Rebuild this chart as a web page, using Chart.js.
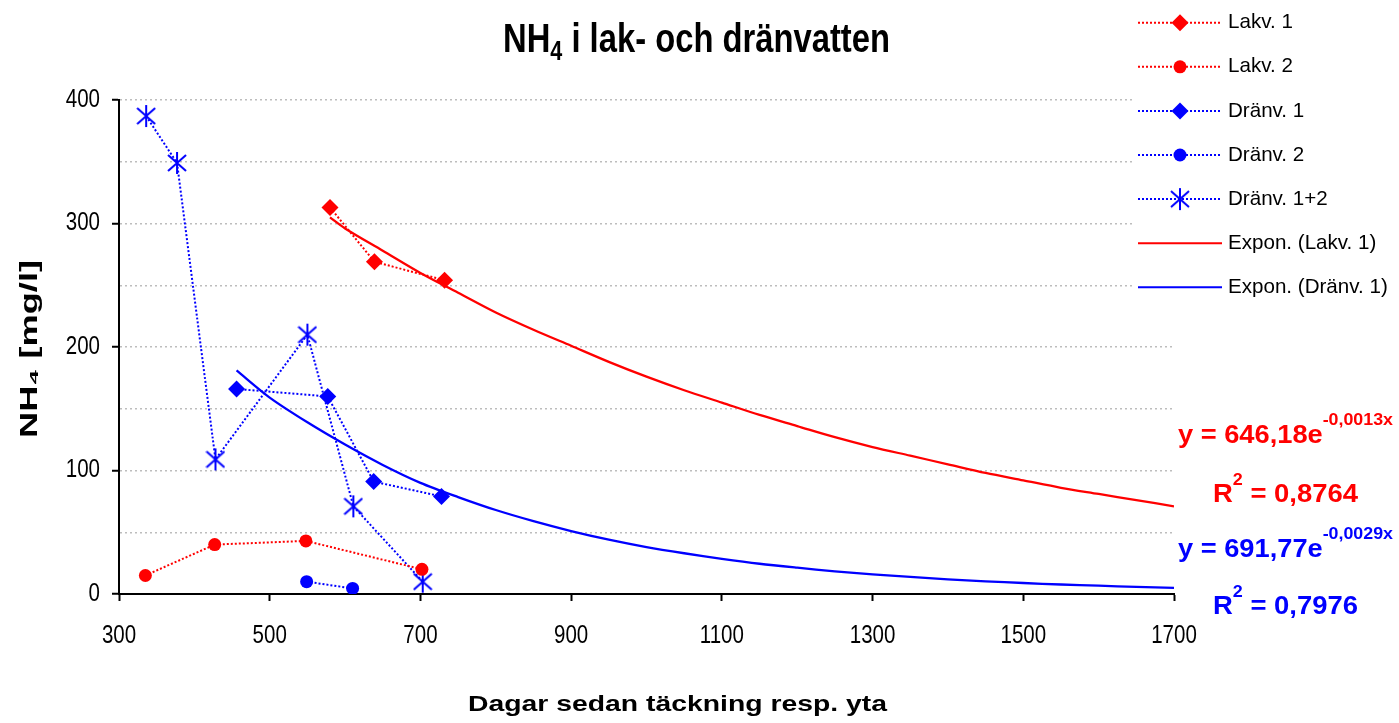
<!DOCTYPE html>
<html>
<head>
<meta charset="utf-8">
<script src="https://cdn.jsdelivr.net/npm/chart.js@4.4.1/dist/chart.umd.min.js"></script>
<style>
  body { margin: 0; background: #fff; }
  #wrap { width: 1399px; height: 723px; }
</style>
</head>
<body>
<div id="wrap"><canvas id="chart" width="1399" height="723"></canvas></div>
<script>
// values
const lakv1X = [580, 639, 732]
const lakv1Y = [313, 269, 254]
const lakv2X = [335, 427, 548, 702]
const lakv2Y = [15, 40, 43, 20]
const dranv1X = [456, 577, 638, 728]
const dranv1Y = [166, 160, 91, 79]
const dranv2X = [549, 610]
const dranv2Y = [10, 4.5]
const dranv12X = [336, 377, 428, 550, 611, 703]
const dranv12Y = [387, 349, 109, 210, 71, 10]

// exponential trend lines, sampled along the drawn curves
const trendLakvX = [580, 600, 650, 700, 750, 800, 850, 900, 950, 1000, 1050, 1100, 1150, 1200, 1250, 1300, 1350, 1400, 1450, 1500, 1550, 1600, 1650, 1700]
const trendLakvY = [305, 296, 278, 260, 244, 228, 214, 201, 188, 176, 165, 155, 145, 136, 127, 119, 112, 105, 98, 92, 86, 81, 76, 71]
const trendDranX = [456, 500, 550, 600, 650, 700, 750, 800, 850, 900, 950, 1000, 1050, 1100, 1150, 1200, 1250, 1300, 1350, 1400, 1450, 1500, 1550, 1600, 1650, 1700]
const trendDranY = [181, 159, 139, 121, 104.5, 90, 78.5, 68, 59, 51, 44, 38, 33, 28.5, 24.5, 21.3, 18.4, 15.9, 13.8, 11.9, 10.3, 8.9, 7.7, 6.7, 5.8, 5]

const xTicks = [300, 500, 700, 900, 1100, 1300, 1500, 1700]
const yTicks = [0, 100, 200, 300, 400]

const RED = '#ff0000'
const BLUE = '#0000ff'
const SANS = "'Liberation Sans', Arial, sans-serif"
const NARROW = 0.82  // horizontal squeeze to mimic Arial Narrow

const pts = (xs, ys) => xs.map((x, i) => ({x: x, y: ys[i]}))

function makeStar(color){
    const c = document.createElement('canvas')
    c.width = 20
    c.height = 24
    const g = c.getContext('2d')
    g.strokeStyle = color
    g.lineWidth = 2
    g.beginPath()
    g.moveTo(1, 4); g.lineTo(19, 20)
    g.moveTo(19, 4); g.lineTo(1, 20)
    g.moveTo(10, 1); g.lineTo(10, 23)
    g.stroke()
    return c
}
const star = makeStar(BLUE)

function dotted(label, xs, ys, color, style, radius){
    return {
        label: label,
        data: pts(xs, ys),
        showLine: true,
        borderColor: color,
        backgroundColor: color,
        borderWidth: 2,
        borderDash: [2, 2],
        pointStyle: style,
        pointRadius: radius,
        pointBorderWidth: 0,
        pointBackgroundColor: color,
        order: 1
    }
}
function trend(label, xs, ys, color){
    return {
        label: label,
        data: pts(xs, ys),
        showLine: true,
        borderColor: color,
        borderWidth: 2.3,
        pointRadius: 0,
        tension: 0.3,
        order: 2
    }
}

const datasets = [
    dotted('Lakv. 1', lakv1X, lakv1Y, RED, 'rectRot', 8.5),
    dotted('Lakv. 2', lakv2X, lakv2Y, RED, 'circle', 6.5),
    dotted('Dränv. 1', dranv1X, dranv1Y, BLUE, 'rectRot', 8.5),
    dotted('Dränv. 2', dranv2X, dranv2Y, BLUE, 'circle', 6.5),
    dotted('Dränv. 1+2', dranv12X, dranv12Y, BLUE, star, 10),
    trend('Expon. (Lakv. 1)', trendLakvX, trendLakvY, RED),
    trend('Expon. (Dränv. 1)', trendDranX, trendDranY, BLUE)
]

const legendItems = [
    {text: 'Lakv. 1', color: RED, marker: 'diamond'},
    {text: 'Lakv. 2', color: RED, marker: 'circle'},
    {text: 'Dränv. 1', color: BLUE, marker: 'diamond'},
    {text: 'Dränv. 2', color: BLUE, marker: 'circle'},
    {text: 'Dränv. 1+2', color: BLUE, marker: 'star'},
    {text: 'Expon. (Lakv. 1)', color: RED, marker: null},
    {text: 'Expon. (Dränv. 1)', color: BLUE, marker: null}
]

function partsWidth(ctx, parts){
    let w = 0
    for (const p of parts){ ctx.font = p.font; w += ctx.measureText(p.text).width }
    return w
}
// draws text pieces squeezed/stretched by sx; if width is given, sx is chosen to fit it
function drawParts(ctx, x, y, parts, sx, width){
    if (width) sx = width / partsWidth(ctx, parts)
    ctx.save()
    ctx.translate(x, y)
    ctx.scale(sx, 1)
    let cx = 0
    for (const p of parts){
        ctx.font = p.font
        ctx.fillText(p.text, cx, p.dy || 0)
        cx += ctx.measureText(p.text).width
    }
    ctx.restore()
}

const decorations = {
    id: 'decorations',
    afterDraw(chart){
        const ctx = chart.ctx
        const xs = chart.scales.x
        const ys = chart.scales.y
        ctx.save()
        ctx.fillStyle = '#000'
        ctx.textBaseline = 'alphabetic'
        ctx.textAlign = 'left'

        // tick labels
        ctx.font = '25px ' + SANS
        xs.ticks.forEach(t => {
            const label = String(t.value)
            const w = ctx.measureText(label).width * NARROW
            drawParts(ctx, xs.getPixelForValue(t.value) - w / 2, 643, [{text: label, font: '25px ' + SANS}], NARROW)
        })
        ctx.textBaseline = 'middle'
        ys.ticks.forEach(t => {
            if (!yTicks.includes(t.value)) return
            const label = String(t.value)
            ctx.font = '25px ' + SANS
            const w = ctx.measureText(label).width * NARROW
            drawParts(ctx, 100 - w, ys.getPixelForValue(t.value), [{text: label, font: '25px ' + SANS}], NARROW)
        })
        ctx.textBaseline = 'alphabetic'

        // title
        drawParts(ctx, 503, 52, [
            {text: 'NH', font: 'bold 41px ' + SANS},
            {text: '4', font: 'bold 27px ' + SANS, dy: 8},
            {text: ' i lak- och dränvatten', font: 'bold 41px ' + SANS}
        ], 1, 387)

        // axis titles
        drawParts(ctx, 468, 711, [{text: 'Dagar sedan täckning resp. yta', font: 'bold 22px ' + SANS}], 1, 419)
        ctx.save()
        ctx.translate(37, 438)
        ctx.rotate(-Math.PI / 2)
        drawParts(ctx, 0, 0, [{text: 'NH₄ [mg/l]', font: 'bold 23px ' + SANS}], 1, 178)
        ctx.restore()

        // legend
        ctx.fillStyle = '#fff'
        ctx.fillRect(1133, 0, 266, 305)
        legendItems.forEach((item, i) => {
            const y = 22.7 + i * 44.1
            ctx.strokeStyle = item.color
            ctx.lineWidth = 2
            ctx.setLineDash(item.marker ? [2, 2] : [])
            ctx.beginPath()
            ctx.moveTo(1138, y)
            ctx.lineTo(1222, y)
            ctx.stroke()
            ctx.setLineDash([])
            ctx.fillStyle = item.color
            if (item.marker == 'diamond'){
                ctx.beginPath()
                ctx.moveTo(1180, y - 8.5); ctx.lineTo(1188.5, y); ctx.lineTo(1180, y + 8.5); ctx.lineTo(1171.5, y)
                ctx.closePath()
                ctx.fill()
            } else if (item.marker == 'circle'){
                ctx.beginPath()
                ctx.arc(1180, y, 6.5, 0, Math.PI * 2)
                ctx.fill()
            } else if (item.marker == 'star'){
                ctx.drawImage(star, 1170, y - 12)
            }
            ctx.fillStyle = '#000'
            drawParts(ctx, 1228, y + 5.6, [{text: item.text, font: '21px ' + SANS}], 0.98)
        })

        // trend line equations
        const big = 'bold 26px ' + SANS
        const sup = 'bold 17px ' + SANS
        ctx.fillStyle = RED
        drawParts(ctx, 1178, 443, [{text: 'y = 646,18e', font: big}, {text: '-0,0013x', font: sup, dy: -18}], 1, 215)
        drawParts(ctx, 1213, 502, [{text: 'R', font: big}, {text: '2', font: sup, dy: -17}, {text: ' = 0,8764', font: big}], 1, 145)
        ctx.fillStyle = BLUE
        drawParts(ctx, 1178, 557, [{text: 'y = 691,77e', font: big}, {text: '-0,0029x', font: sup, dy: -18}], 1, 215)
        drawParts(ctx, 1213, 614, [{text: 'R', font: big}, {text: '2', font: sup, dy: -17}, {text: ' = 0,7976', font: big}], 1, 145)
        ctx.restore()
    }
}

const ctx = document.querySelector('#chart')
const chart = new Chart(ctx, {
    type: 'scatter',
    data: {datasets: datasets},
    options: {
        responsive: false,
        animation: false,
        layout: {padding: {top: 100, right: 225, left: 0, bottom: 0}},
        plugins: {legend: {display: false}, tooltip: {enabled: false}, title: {display: false}},
        scales: {
            x: {
                type: 'linear',
                min: 300,
                max: 1700,
                afterBuildTicks: s => { s.ticks = xTicks.map(v => ({value: v})) },
                afterFit: s => { s.height = 129 },
                ticks: {color: 'rgba(0,0,0,0)', font: {family: SANS, size: 25}, padding: 14, maxRotation: 0},
                grid: {drawOnChartArea: false, tickLength: 7, tickWidth: 2, tickColor: '#000'},
                border: {color: '#000', width: 2}
            },
            y: {
                min: 0,
                max: 400,
                ticks: {stepSize: 50, color: 'rgba(0,0,0,0)', font: {family: SANS, size: 25}, padding: 12},
                afterFit: s => { s.width = 119 },
                grid: {
                    color: '#bdbdbd',
                    lineWidth: 1.5,
                    tickLength: 7,
                    tickWidth: 2,
                    tickColor: c => (c.tick && yTicks.includes(c.tick.value)) ? '#000' : 'rgba(0,0,0,0)'
                },
                border: {color: '#000', width: 2, dash: [2, 3]}
            }
        }
    },
    plugins: [decorations]
})
</script>
</body>
</html>
